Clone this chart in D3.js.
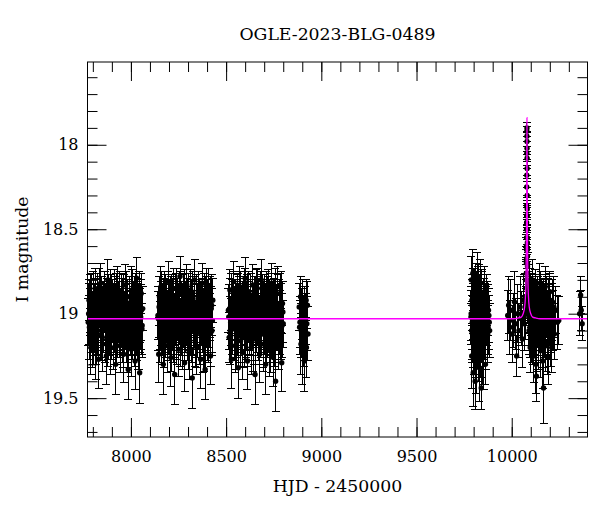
<!DOCTYPE html>
<html>
<head>
<meta charset="utf-8">
<script src="https://cdn.jsdelivr.net/npm/d3@7"></script>
<style>
  body { margin: 0; background: #fff; }
  text { font-family: "DejaVu Serif", "Liberation Serif", serif; fill: #000; }
</style>
</head>
<body>
<svg id="chart"></svg>
<script>
// [HJD - 2450000, I mag, error]
const season1 = [[7776,19.05,0.14],[7780,18.92,0.12],[7783,19.12,0.15],[7787,18.98,0.13],[7790,19.20,0.16],[7794,18.88,0.12],[7797,19.03,0.14],[7801,19.15,0.15],[7805,18.95,0.13],[7808,19.08,0.14],[7812,18.85,0.12],[7816,19.22,0.17],[7819,19.00,0.13],[7823,18.93,0.13],[7827,19.10,0.15],[7830,19.27,0.17],[7834,18.90,0.12],[7838,19.05,0.14],[7841,18.82,0.12],[7845,19.13,0.15],[7849,18.97,0.13],[7852,19.18,0.16],[7856,19.02,0.14],[7860,18.87,0.12],[7864,19.08,0.15],[7867,18.95,0.13],[7871,19.25,0.17],[7875,19.00,0.14],[7879,18.80,0.12],[7882,19.12,0.15],[7886,18.93,0.13],[7890,19.06,0.14],[7894,19.20,0.16],[7897,18.89,0.12],[7901,19.03,0.14],[7905,18.96,0.13],[7909,19.15,0.15],[7912,18.86,0.12],[7916,19.09,0.14],[7920,19.30,0.18],[7924,18.99,0.13],[7928,18.84,0.12],[7931,19.11,0.15],[7935,19.02,0.14],[7939,18.92,0.13],[7943,19.19,0.16],[7947,19.05,0.14],[7951,18.88,0.12],[7955,19.14,0.15],[7958,18.97,0.13],[7962,19.24,0.17],[7966,19.01,0.14],[7970,18.83,0.12],[7974,19.07,0.14],[7978,18.94,0.13],[7982,19.16,0.16],[7986,19.33,0.18],[7990,18.90,0.12],[7994,19.04,0.14],[7998,18.98,0.13],[8002,19.21,0.16],[8006,18.86,0.12],[8010,19.10,0.15],[8014,19.00,0.14],[8018,18.91,0.13],[8022,19.28,0.17],[8026,19.06,0.14],[8030,18.79,0.12],[8034,19.13,0.15],[8038,18.95,0.13],[8042,19.17,0.16],[8046,19.35,0.18],[8050,19.02,0.14],[8054,18.88,0.12],[8058,19.09,0.15],[8062,18.97,0.13]];
const season1b = [[7778,19.00,0.18],[7782,19.08,0.19],[7786,18.95,0.18],[7791,19.04,0.19],[7795,18.98,0.18],[7798,19.12,0.20],[7802,18.92,0.17],[7806,19.06,0.19],[7810,19.02,0.19],[7814,18.97,0.18],[7818,19.10,0.20],[7822,18.94,0.18],[7826,19.05,0.19],[7831,19.01,0.19],[7835,18.90,0.17],[7839,19.07,0.19],[7843,19.03,0.19],[7847,18.96,0.18],[7850,19.14,0.20],[7854,18.99,0.18],[7858,19.04,0.19],[7862,18.93,0.18],[7866,19.09,0.20],[7870,19.00,0.19],[7874,18.97,0.18],[7878,19.11,0.20],[7883,18.95,0.18],[7887,19.06,0.19],[7891,19.02,0.19],[7895,18.91,0.17],[7898,19.08,0.19],[7902,18.98,0.18],[7906,19.13,0.20],[7910,19.01,0.19],[7914,18.96,0.18],[7918,19.05,0.19],[7922,18.94,0.18],[7926,19.10,0.20],[7930,19.03,0.19],[7934,18.99,0.18],[7938,19.07,0.19],[7942,18.92,0.17],[7946,19.04,0.19],[7950,19.00,0.19],[7954,18.97,0.18],[7959,19.12,0.20],[7963,18.95,0.18],[7967,19.06,0.19],[7971,19.02,0.19],[7975,18.93,0.18],[7979,19.09,0.20],[7983,18.98,0.18],[7987,19.15,0.20],[7991,19.01,0.19],[7995,18.96,0.18],[7999,19.05,0.19],[8003,18.89,0.17],[8007,19.08,0.19],[8011,19.03,0.19],[8015,18.99,0.18],[8019,19.11,0.20],[8023,18.94,0.18],[8027,19.06,0.19],[8031,19.00,0.19],[8035,18.97,0.18],[8039,19.13,0.20],[8043,18.92,0.17],[8047,19.04,0.19],[8051,19.02,0.19],[8055,18.98,0.18],[8059,19.07,0.19]];

const season2 = [[8142,19.01,0.14],[8146,19.24,0.17],[8150,18.90,0.12],[8154,19.07,0.14],[8158,18.84,0.12],[8162,19.15,0.15],[8166,18.96,0.13],[8170,19.30,0.18],[8174,19.03,0.14],[8178,18.87,0.12],[8182,19.11,0.15],[8186,18.93,0.13],[8190,19.19,0.16],[8194,19.00,0.14],[8198,18.81,0.12],[8202,19.09,0.15],[8206,18.98,0.13],[8210,19.26,0.17],[8214,18.89,0.12],[8218,19.05,0.14],[8222,19.14,0.15],[8226,18.92,0.13],[8230,19.36,0.18],[8234,19.02,0.14],[8238,18.85,0.12],[8242,19.12,0.15],[8246,18.95,0.13],[8250,19.21,0.16],[8254,19.04,0.14],[8258,18.78,0.12],[8262,19.08,0.15],[8266,18.99,0.13],[8270,19.17,0.16],[8274,18.88,0.12],[8278,19.06,0.14],[8282,19.29,0.17],[8286,18.94,0.13],[8290,19.01,0.14],[8294,18.83,0.12],[8298,19.13,0.15],[8302,18.97,0.13],[8306,19.23,0.16],[8310,19.05,0.14],[8314,18.86,0.12],[8318,19.10,0.15],[8322,19.38,0.18],[8326,18.91,0.13],[8330,19.03,0.14],[8334,18.80,0.12],[8338,19.16,0.15],[8342,18.96,0.13],[8346,19.20,0.16],[8350,19.00,0.14],[8354,18.87,0.12],[8358,19.11,0.15],[8362,18.93,0.13],[8366,19.27,0.17],[8370,19.04,0.14],[8374,18.82,0.12],[8378,19.08,0.15],[8382,18.98,0.13],[8386,19.18,0.16],[8390,19.33,0.18],[8394,18.90,0.12],[8398,19.06,0.14],[8402,18.95,0.13],[8406,19.14,0.15],[8410,18.85,0.12],[8414,19.02,0.14],[8418,19.25,0.17],[8422,18.97,0.13],[8426,19.10,0.15],[8430,18.92,0.13]];
const season2b = [[8144,19.03,0.19],[8148,18.96,0.18],[8152,19.09,0.20],[8156,19.00,0.19],[8160,18.93,0.18],[8164,19.06,0.19],[8168,19.01,0.19],[8172,18.97,0.18],[8176,19.12,0.20],[8180,18.95,0.18],[8184,19.04,0.19],[8188,18.99,0.18],[8192,19.08,0.20],[8196,18.92,0.17],[8200,19.05,0.19],[8204,19.02,0.19],[8208,18.96,0.18],[8212,19.14,0.20],[8216,18.98,0.18],[8220,19.03,0.19],[8224,18.90,0.17],[8228,19.07,0.19],[8232,19.00,0.19],[8236,18.94,0.18],[8240,19.10,0.20],[8244,18.97,0.18],[8248,19.05,0.19],[8252,19.01,0.19],[8256,18.93,0.18],[8260,19.11,0.20],[8264,18.99,0.18],[8268,19.06,0.19],[8272,19.02,0.19],[8276,18.95,0.18],[8280,19.08,0.20],[8284,18.91,0.17],[8288,19.04,0.19],[8292,19.00,0.19],[8296,18.97,0.18],[8300,19.13,0.20],[8304,18.94,0.18],[8308,19.06,0.19],[8312,19.03,0.19],[8316,18.98,0.18],[8320,19.09,0.20],[8324,18.92,0.17],[8328,19.05,0.19],[8332,19.01,0.19],[8336,18.96,0.18],[8340,19.12,0.20],[8344,18.95,0.18],[8348,19.07,0.19],[8352,19.02,0.19],[8356,18.93,0.18],[8360,19.10,0.20],[8364,18.99,0.18],[8368,19.04,0.19],[8372,19.00,0.19],[8376,18.97,0.18],[8380,19.15,0.20],[8384,18.94,0.18],[8388,19.06,0.19],[8392,19.03,0.19],[8396,18.90,0.17],[8400,19.08,0.20],[8404,18.98,0.18],[8408,19.05,0.19],[8412,19.01,0.19],[8416,18.96,0.18],[8420,19.11,0.20],[8424,18.95,0.18],[8428,19.04,0.19]];

const season3 = [[8512,18.98,0.13],[8516,19.14,0.15],[8520,18.86,0.12],[8524,19.05,0.14],[8528,19.27,0.17],[8532,18.93,0.13],[8536,19.09,0.15],[8540,18.81,0.12],[8544,19.02,0.14],[8548,19.19,0.16],[8552,18.95,0.13],[8556,19.11,0.15],[8560,18.88,0.12],[8564,19.32,0.18],[8568,19.00,0.14],[8572,18.84,0.12],[8576,19.16,0.15],[8580,18.97,0.13],[8584,19.07,0.14],[8588,19.23,0.16],[8592,18.90,0.12],[8596,19.04,0.14],[8600,18.79,0.12],[8604,19.12,0.15],[8608,18.94,0.13],[8612,19.28,0.17],[8616,19.01,0.14],[8620,18.87,0.12],[8624,19.10,0.15],[8628,18.96,0.13],[8632,19.20,0.16],[8636,19.06,0.14],[8640,18.83,0.12],[8644,19.15,0.15],[8648,18.99,0.13],[8652,19.36,0.18],[8656,18.91,0.13],[8660,19.03,0.14],[8664,18.85,0.12],[8668,19.13,0.15],[8672,18.95,0.13],[8676,19.24,0.17],[8680,19.02,0.14],[8684,18.80,0.12],[8688,19.08,0.15],[8692,18.98,0.13],[8696,19.18,0.16],[8700,18.89,0.12],[8704,19.05,0.14],[8708,19.30,0.18],[8712,18.93,0.13],[8716,19.11,0.15],[8720,18.86,0.12],[8724,19.01,0.14],[8728,19.21,0.16],[8732,18.96,0.13],[8736,19.09,0.15],[8740,18.82,0.12],[8744,19.04,0.14],[8748,19.26,0.17],[8752,18.92,0.13],[8756,19.14,0.15],[8760,19.40,0.18],[8764,18.97,0.13],[8768,19.07,0.14],[8772,18.84,0.12],[8776,19.17,0.16],[8780,19.00,0.14],[8784,18.88,0.12],[8788,19.12,0.15],[8792,19.29,0.17],[8796,18.94,0.13],[8800,19.06,0.14]];
const season3b = [[8514,19.02,0.19],[8518,18.97,0.18],[8522,19.10,0.20],[8526,18.94,0.18],[8530,19.05,0.19],[8534,19.00,0.19],[8538,18.92,0.17],[8542,19.08,0.20],[8546,19.03,0.19],[8550,18.98,0.18],[8554,19.13,0.20],[8558,18.95,0.18],[8562,19.06,0.19],[8566,19.01,0.19],[8570,18.96,0.18],[8574,19.09,0.20],[8578,18.93,0.18],[8582,19.04,0.19],[8586,19.00,0.19],[8590,18.97,0.18],[8594,19.12,0.20],[8598,18.90,0.17],[8602,19.07,0.19],[8606,19.02,0.19],[8610,18.95,0.18],[8614,19.11,0.20],[8618,18.99,0.18],[8622,19.05,0.19],[8626,19.03,0.19],[8630,18.94,0.18],[8634,19.08,0.20],[8638,18.98,0.18],[8642,19.14,0.20],[8646,19.01,0.19],[8650,18.96,0.18],[8654,19.06,0.19],[8658,18.91,0.17],[8662,19.04,0.19],[8666,19.00,0.19],[8670,18.97,0.18],[8674,19.10,0.20],[8678,18.93,0.18],[8682,19.07,0.19],[8686,19.02,0.19],[8690,18.95,0.18],[8694,19.12,0.20],[8698,18.99,0.18],[8702,19.05,0.19],[8706,19.01,0.19],[8710,18.92,0.17],[8714,19.09,0.20],[8718,18.96,0.18],[8722,19.04,0.19],[8726,19.03,0.19],[8730,18.98,0.18],[8734,19.15,0.20],[8738,18.94,0.18],[8742,19.06,0.19],[8746,19.00,0.19],[8750,18.97,0.18],[8754,19.11,0.20],[8758,18.90,0.17],[8762,19.08,0.19],[8766,19.02,0.19],[8770,18.95,0.18],[8774,19.13,0.20],[8778,18.98,0.18],[8782,19.05,0.19],[8786,19.01,0.19],[8790,18.93,0.18],[8794,19.07,0.19],[8798,18.99,0.18]];

const season4 = [[8884,18.96,0.14],[8886,19.08,0.16],[8888,19.05,0.15],[8891,18.90,0.12],[8893,19.18,0.18],[8895,19.10,0.16],[8898,19.00,0.15],[8900,19.22,0.20],[8902,18.93,0.13],[8904,19.04,0.15],[8906,19.08,0.16],[8909,19.14,0.17],[8911,19.28,0.18],[8913,18.98,0.14],[8915,19.12,0.16],[8917,19.03,0.15],[8920,18.92,0.12],[8922,19.20,0.18],[8924,19.06,0.16],[8927,18.95,0.14],[8930,19.12,0.16]];

const season5 = [[9786,19.02,0.16],[9788,18.80,0.14],[9790,19.25,0.19],[9792,18.95,0.15],[9794,19.12,0.17],[9796,18.76,0.14],[9798,19.35,0.20],[9800,19.05,0.16],[9802,18.88,0.15],[9804,19.18,0.18],[9806,18.98,0.15],[9808,19.40,0.17],[9810,18.84,0.14],[9812,19.08,0.16],[9814,19.28,0.19],[9816,18.92,0.15],[9818,19.14,0.17],[9820,18.78,0.14],[9822,19.00,0.16],[9824,19.22,0.18],[9826,18.86,0.15],[9828,19.10,0.17],[9830,19.32,0.20],[9832,18.96,0.15],[9834,19.04,0.16],[9836,18.82,0.14],[9838,19.20,0.18],[9840,19.44,0.13],[9842,18.90,0.15],[9844,19.06,0.16],[9847,19.16,0.17],[9850,18.94,0.15],[9853,19.26,0.19],[9856,18.87,0.15],[9859,19.08,0.16],[9862,19.30,0.12],[9866,19.00,0.16],[9870,18.92,0.15],[9874,19.12,0.17],[9878,18.98,0.15],[9882,19.05,0.16]];
const season5b = [[9787,19.00,0.16],[9789,19.10,0.17],[9791,18.92,0.15],[9793,19.05,0.16],[9795,18.97,0.15],[9797,19.15,0.17],[9799,18.88,0.15],[9801,19.08,0.16],[9803,19.02,0.16],[9805,18.94,0.15],[9807,19.12,0.17],[9809,18.99,0.15],[9811,19.20,0.18],[9813,18.90,0.15],[9815,19.04,0.16],[9817,19.00,0.16],[9819,18.95,0.15],[9821,19.14,0.17],[9823,18.86,0.14],[9825,19.06,0.16],[9827,19.02,0.16],[9829,18.96,0.15],[9831,19.18,0.18],[9833,18.92,0.15],[9835,19.09,0.16],[9837,19.01,0.16],[9839,18.98,0.15],[9841,19.12,0.17],[9843,18.89,0.15],[9845,19.05,0.16],[9848,19.24,0.18],[9851,19.00,0.16],[9854,18.94,0.15],[9857,19.10,0.17],[9860,18.97,0.15],[9864,19.16,0.17],[9868,19.03,0.16],[9872,18.96,0.15],[9876,19.08,0.16],[9880,19.01,0.16],[9884,19.10,0.16]];

const season6Pre = [[9979,19.01,0.15],[9984,18.95,0.17],[9990,19.08,0.16],[9996,18.98,0.18],[10002,19.12,0.17],[10008,19.04,0.16],[10014,18.93,0.18],[10020,19.06,0.15],[10026,19.25,0.12],[10032,19.00,0.17],[10038,19.10,0.16],[10044,18.96,0.18],[10050,19.03,0.16],[10056,19.15,0.17],[10062,18.92,0.15],[10066,19.06,0.16],[10070,18.90,0.14],[10073,19.00,0.15]];

const eventPeak = [[10079.6,17.92,0.03],[10079.8,17.95,0.03],[10080.0,17.90,0.03],[10080.2,17.98,0.03],[10080.4,18.02,0.04],[10079.3,18.05,0.04],[10080.8,18.14,0.04],[10078.8,18.25,0.05],[10081.2,18.30,0.05],[10078.5,18.36,0.05],[10081.5,18.42,0.05],[10078.2,18.46,0.06],[10081.8,18.50,0.06],[10077.8,18.55,0.06],[10082.2,18.58,0.07],[10077.5,18.62,0.07],[10082.6,18.66,0.07],[10077.0,18.70,0.08],[10083.0,18.72,0.08],[10076.5,18.76,0.08],[10083.5,18.80,0.09],[10076.0,18.85,0.09],[10084.5,18.88,0.09],[10085.5,18.93,0.10]];
const eventPeakB = [[10076.8,18.80,0.09],[10077.2,18.68,0.08],[10077.6,18.60,0.07],[10078.0,18.50,0.06],[10078.4,18.42,0.06],[10081.4,18.38,0.05],[10082.0,18.55,0.06],[10082.4,18.62,0.07],[10082.8,18.70,0.08],[10083.2,18.76,0.08],[10083.8,18.84,0.09],[10084.2,18.90,0.10],[10085.0,18.95,0.11],[10086.0,19.00,0.11],[10086.8,18.92,0.11],[10075.5,18.90,0.10],[10080.6,18.08,0.04],[10079.1,18.18,0.04]];

const season6Post = [[10088,18.95,0.12],[10091,19.10,0.14],[10094,18.85,0.12],[10097,19.20,0.15],[10100,19.00,0.13],[10103,18.90,0.12],[10106,19.15,0.14],[10109,18.80,0.12],[10112,19.05,0.13],[10115,19.25,0.16],[10118,18.93,0.12],[10121,19.12,0.14],[10124,18.86,0.12],[10127,19.30,0.17],[10130,19.37,0.15],[10133,19.02,0.13],[10136,18.90,0.12],[10139,19.18,0.15],[10142,18.97,0.13],[10145,19.08,0.14],[10148,18.82,0.12],[10151,19.22,0.16],[10154,19.00,0.13],[10157,18.92,0.12],[10160,19.14,0.14],[10163,19.28,0.16],[10167,19.44,0.21],[10170,18.95,0.13],[10173,19.06,0.14],[10176,18.84,0.12],[10179,19.19,0.15],[10182,19.01,0.13],[10185,18.90,0.12],[10188,19.11,0.14],[10191,19.26,0.16],[10194,18.97,0.13],[10197,19.05,0.14],[10200,18.87,0.12],[10203,19.16,0.15],[10206,19.00,0.13],[10210,19.20,0.15],[10214,18.93,0.13],[10218,19.08,0.14],[10224,19.12,0.15],[10232,18.98,0.14],[10240,19.05,0.16],[10247,19.04,0.14]];
const season6PostB = [[10090,19.02,0.17],[10093,18.96,0.16],[10096,19.08,0.18],[10099,18.92,0.16],[10102,19.05,0.17],[10105,19.00,0.17],[10108,18.95,0.16],[10111,19.12,0.18],[10114,18.98,0.17],[10117,19.06,0.18],[10120,19.01,0.17],[10123,18.93,0.16],[10126,19.10,0.18],[10129,18.97,0.17],[10132,19.15,0.19],[10135,19.03,0.17],[10138,18.94,0.16],[10141,19.07,0.18],[10144,19.00,0.17],[10147,18.96,0.16],[10150,19.11,0.18],[10153,18.91,0.16],[10156,19.05,0.17],[10159,19.02,0.17],[10162,18.98,0.17],[10165,19.13,0.19],[10168,18.95,0.16],[10171,19.08,0.18],[10174,19.01,0.17],[10177,18.93,0.16],[10180,19.06,0.18],[10183,18.97,0.17],[10186,19.17,0.19],[10189,19.03,0.17],[10192,18.95,0.16],[10195,19.09,0.18],[10198,19.00,0.17],[10201,18.92,0.16],[10204,19.05,0.18],[10208,19.12,0.19],[10212,18.99,0.17],[10216,19.04,0.18],[10221,18.96,0.18]];

const season7 = [[10357,19.00,0.13],[10362,18.89,0.11],[10365,18.98,0.12],[10370,19.06,0.10]];

// magenta model curve
const modelT =   [7772, 10010, 10035, 10050, 10060, 10068, 10072, 10075, 10076.5, 10078, 10079, 10080, 10081, 10082, 10083.5, 10085, 10088, 10092, 10100, 10110, 10125, 10150, 10398];
const modelMag = [19.03, 19.03, 19.025, 19.02, 19.00, 18.96, 18.90, 18.80, 18.65, 18.45, 18.20, 17.84, 18.20, 18.45, 18.65, 18.80, 18.90, 18.96, 19.00, 19.02, 19.025, 19.03, 19.03];

const xMajorTicks = [8000, 8500, 9000, 9500, 10000];
const yMajorTicks = [18, 18.5, 19, 19.5];

const title = 'OGLE-2023-BLG-0489';
const xLabel = 'HJD - 2450000';
const yLabel = 'I magnitude';

const config = {
  width: 600,
  height: 512,
  margin: { top: 62, right: 12.5, bottom: 75, left: 87.5 },
  majorTick: 19,
  minorTick: 10,
  cap: 4,
  labelSize: 17.3,
  tickSize: 16,
};

const svg = d3.select('#chart')
  .attr('width', config.width)
  .attr('height', config.height);

const plotLeft = config.margin.left;
const plotTop = config.margin.top;
const plotRight = config.width - config.margin.right;
const plotBottom = config.height - config.margin.bottom;

const x = d3.scaleLinear().domain([7772, 10398]).range([plotLeft, plotRight]);
const y = d3.scaleLinear().domain([17.51, 19.73]).range([plotTop, plotBottom]);

const allPoints = [].concat(season1, season1b, season2, season2b, season3, season3b,
  season4, season5, season5b, season6Pre, eventPeak, eventPeakB,
  season6Post, season6PostB, season7);

// error bars
const bars = svg.append('g')
  .attr('stroke', '#000')
  .attr('stroke-width', 1)
  .attr('shape-rendering', 'crispEdges');

bars.selectAll('.err')
  .data(allPoints)
  .join('line')
  .attr('x1', (d) => x(d[0]))
  .attr('x2', (d) => x(d[0]))
  .attr('y1', (d) => y(d[1] - d[2]))
  .attr('y2', (d) => y(d[1] + d[2]));

bars.selectAll('.capTop')
  .data(allPoints)
  .join('line')
  .attr('x1', (d) => x(d[0]) - config.cap)
  .attr('x2', (d) => x(d[0]) + config.cap)
  .attr('y1', (d) => y(d[1] - d[2]))
  .attr('y2', (d) => y(d[1] - d[2]));

bars.selectAll('.capBottom')
  .data(allPoints)
  .join('line')
  .attr('x1', (d) => x(d[0]) - config.cap)
  .attr('x2', (d) => x(d[0]) + config.cap)
  .attr('y1', (d) => y(d[1] + d[2]))
  .attr('y2', (d) => y(d[1] + d[2]));

// points
svg.append('g')
  .selectAll('circle')
  .data(allPoints)
  .join('circle')
  .attr('cx', (d) => x(d[0]))
  .attr('cy', (d) => y(d[1]))
  .attr('r', 2.7)
  .attr('fill', '#000');

// model
const model = modelT.map((t, i) => [t, modelMag[i]]);
svg.append('path')
  .datum(model)
  .attr('fill', 'none')
  .attr('stroke', '#ff00ff')
  .attr('stroke-width', 1.3)
  .attr('d', d3.line().x((d) => x(d[0])).y((d) => y(d[1])).curve(d3.curveMonotoneX));

// axes with inward ticks on all four sides
const xMinor = d3.range(7800, 10400, 100);
const yMinor = d3.range(17.6, 19.75, 0.1).map((v) => +v.toFixed(1));

function addAxis(axis, tx, ty, labels) {
  const g = svg.append('g')
    .attr('transform', `translate(${tx},${ty})`)
    .call(axis);
  g.select('.domain').remove();
  g.selectAll('line').attr('stroke', '#000');
  if (!labels) g.selectAll('text').remove();
  return g;
}

addAxis(d3.axisBottom(x).tickValues(xMinor).tickSize(-config.minorTick), 0, plotBottom, false);
addAxis(d3.axisTop(x).tickValues(xMinor).tickSize(-config.minorTick), 0, plotTop, false);
addAxis(d3.axisLeft(y).tickValues(yMinor).tickSize(-config.minorTick), plotLeft, 0, false);
addAxis(d3.axisRight(y).tickValues(yMinor).tickSize(-config.minorTick), plotRight, 0, false);

const xb = addAxis(d3.axisBottom(x).tickValues(xMajorTicks).tickSize(-config.majorTick)
  .tickPadding(14).tickFormat(d3.format('d')), 0, plotBottom, true);
addAxis(d3.axisTop(x).tickValues(xMajorTicks).tickSize(-config.majorTick), 0, plotTop, false);
const yl = addAxis(d3.axisLeft(y).tickValues(yMajorTicks).tickSize(-config.majorTick)
  .tickPadding(9).tickFormat((d) => String(d)), plotLeft, 0, true);
addAxis(d3.axisRight(y).tickValues(yMajorTicks).tickSize(-config.majorTick), plotRight, 0, false);

xb.selectAll('text').attr('font-size', config.tickSize).attr('font-family', 'DejaVu Serif');
yl.selectAll('text').attr('font-size', config.tickSize).attr('font-family', 'DejaVu Serif');

// frame
svg.append('rect')
  .attr('x', plotLeft)
  .attr('y', plotTop)
  .attr('width', plotRight - plotLeft)
  .attr('height', plotBottom - plotTop)
  .attr('fill', 'none')
  .attr('stroke', '#000')
  .attr('stroke-width', 1);

// titles
svg.append('text')
  .attr('x', (plotLeft + plotRight) / 2)
  .attr('y', 40)
  .attr('text-anchor', 'middle')
  .attr('font-size', config.labelSize)
  .text(title);

svg.append('text')
  .attr('x', (plotLeft + plotRight) / 2)
  .attr('y', 492)
  .attr('text-anchor', 'middle')
  .attr('font-size', config.labelSize)
  .text(xLabel);

svg.append('text')
  .attr('transform', `translate(28,${(plotTop + plotBottom) / 2}) rotate(-90)`)
  .attr('text-anchor', 'middle')
  .attr('font-size', config.labelSize)
  .text(yLabel);
</script>
</body>
</html>
